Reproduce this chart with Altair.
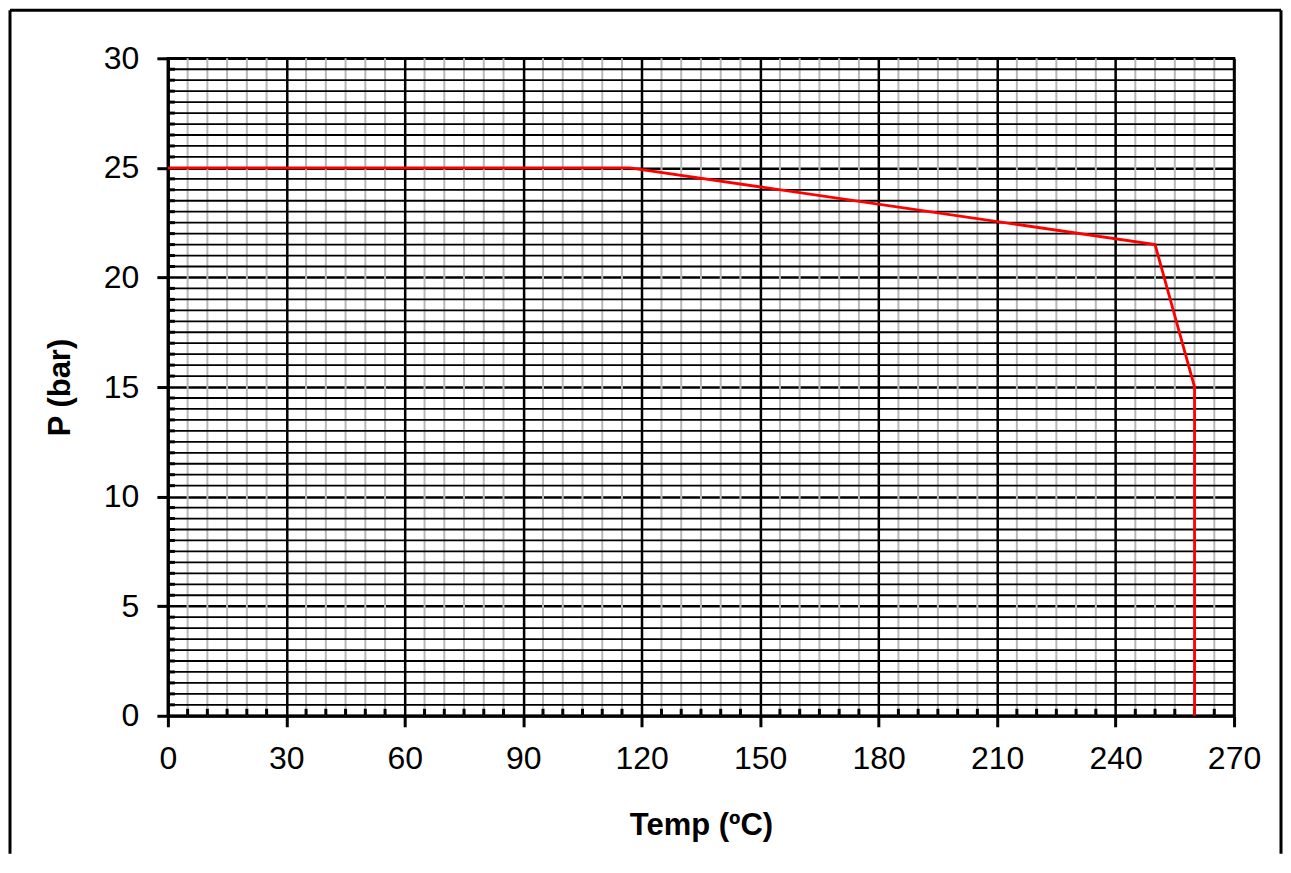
import altair as alt
import pandas as pd

# Curve data (Temp ºC, P bar)
temp = [0, 117, 250, 260, 260]
pressure = [25, 25, 21.5, 15, 0]

# Axis ticks / grid positions
x_major = [0, 30, 60, 90, 120, 150, 180, 210, 240, 270]
x_minor = [v for v in range(0, 271, 5) if v % 30 != 0]
y_major = [0, 5, 10, 15, 20, 25, 30]
y_minor = [v / 2 for v in range(0, 61) if v % 10 != 0]

W, H = 1067, 658
FONT = "Liberation Sans"

curve = pd.DataFrame({"t": temp, "p": pressure})
xmin_df = pd.DataFrame({"t": x_minor})
ymin_df = pd.DataFrame({"p": y_minor})
one = pd.DataFrame({"a": [0]})

xs = alt.Scale(domain=[0, 270], nice=False, zero=False)
ys = alt.Scale(domain=[0, 30], nice=False, zero=False)

x_axis = alt.Axis(values=x_major, grid=True, gridColor="black", gridWidth=2.5,
                  domainColor="black", domainWidth=3, tickColor="black", tickWidth=3,
                  tickSize=11, labelFontSize=32, labelFont=FONT, labelColor="black",
                  labelPadding=17, title="Temp (ºC)", titleFont=FONT, titleFontSize=31,
                  titleFontWeight="bold", titleColor="black", titlePadding=36,
                  labelFlush=False)
y_axis = alt.Axis(values=y_major, grid=True, gridColor="black", gridWidth=2.5,
                  domainColor="black", domainWidth=3, tickColor="black", tickWidth=3,
                  tickSize=11, labelFontSize=32, labelFont=FONT, labelColor="black",
                  labelPadding=18, title="P (bar)", titleFont=FONT, titleFontSize=31,
                  titleFontWeight="bold", titleColor="black", titlePadding=27,
                  labelFlush=False)

# minor vertical gray grid lines
vminor = alt.Chart(xmin_df).mark_rule(color="#b8b8b8", strokeWidth=2).encode(
    x=alt.X("t:Q", scale=xs, axis=x_axis))
# minor horizontal black grid lines
hminor = alt.Chart(ymin_df).mark_rule(color="black", strokeWidth=1.8).encode(
    y=alt.Y("p:Q", scale=ys, axis=y_axis))
# minor inside ticks
yticks = alt.Chart(ymin_df).mark_rule(color="black", strokeWidth=3).encode(
    y=alt.Y("p:Q", scale=ys), x=alt.value(0), x2=alt.value(7))
xticks = alt.Chart(xmin_df).mark_rule(color="black", strokeWidth=3).encode(
    x=alt.X("t:Q", scale=xs), y=alt.value(H), y2=alt.value(H - 7))

line = alt.Chart(curve).mark_line(color="#ff0000", strokeWidth=2.8).encode(
    x=alt.X("t:Q", scale=xs), y=alt.Y("p:Q", scale=ys), order=alt.value(0))

# outer frame (decoration)
frame_left = alt.Chart(one).mark_rule(color="black", strokeWidth=3).encode(
    x=alt.value(-158), y=alt.value(-48), y2=alt.value(H + 138))
frame_right = alt.Chart(one).mark_rule(color="black", strokeWidth=3).encode(
    x=alt.value(W + 47), y=alt.value(-48), y2=alt.value(H + 138))
frame_top = alt.Chart(one).mark_rule(color="black", strokeWidth=3).encode(
    x=alt.value(-158), x2=alt.value(W + 47), y=alt.value(-48))

chart = alt.layer(vminor, hminor, yticks, xticks, line,
                  frame_left, frame_right, frame_top).properties(
    width=W, height=H, padding=0, background="white"
).configure_view(stroke="black", strokeWidth=2.5)

chart.save("out.html", embed_options={"renderer": "svg", "actions": False})
